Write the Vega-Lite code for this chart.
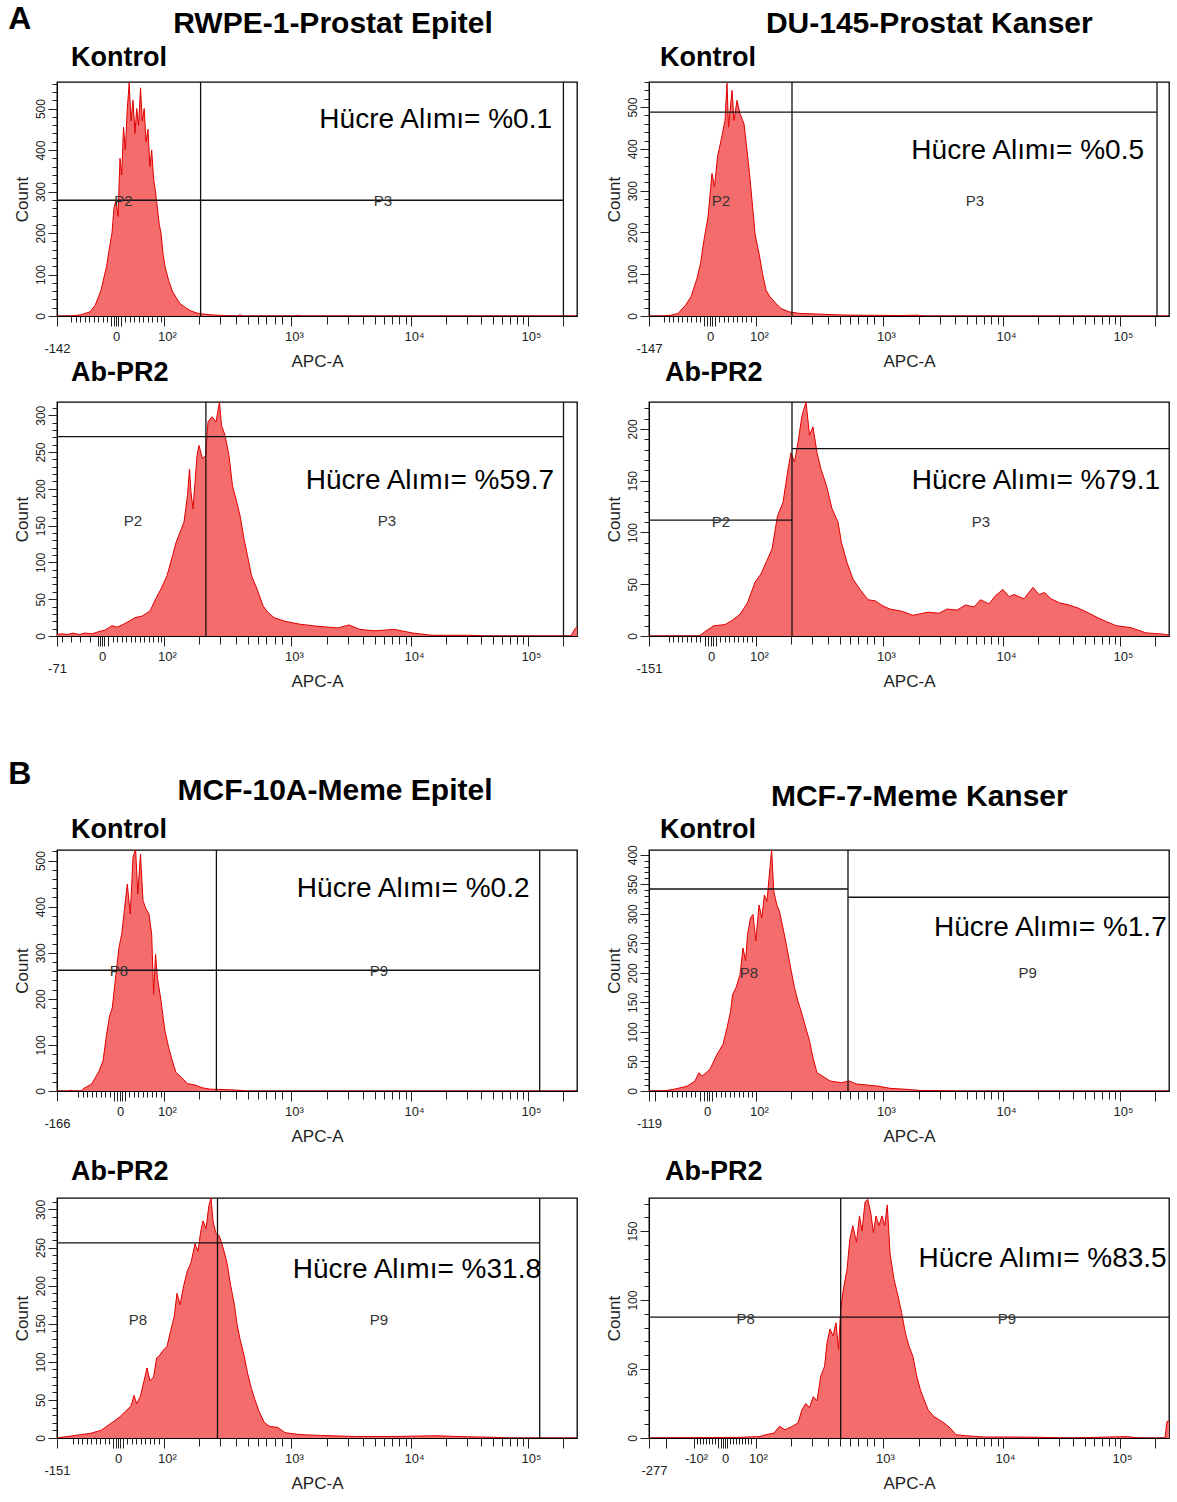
{
"$schema": "https://vega.github.io/schema/vega-lite/v6.json",
"background": "white",
"padding": {"left": 8, "top": 2, "right": 5, "bottom": 5},
"config": {
 "font": "Liberation Sans",
 "view": {"stroke": "black", "strokeWidth": 1.3},
 "title": {"font": "Liberation Sans", "fontWeight": "bold", "color": "black"},
 "axis": {"grid": false, "domainColor": "black", "tickColor": "#222", "labelColor": "#222", "titleColor": "#222", "titleFontWeight": "normal", "titleFont": "Liberation Sans", "labelFont": "Liberation Sans Narrow, Liberation Sans", "labelOverlap": false, "labelFlush": false, "zindex": 1, "tickCount": 200},
 "axisX": {"labelFontSize": 13, "titleFontSize": 17, "titleY": 37, "titleBaseline": "top", "labelOverlap": false, "labelFlush": false},
 "axisY": {"labelFontSize": 12, "titleFontSize": 17, "labelAngle": 270, "labelAlign": "center", "labelBaseline": "bottom", "labelPadding": 1, "titlePadding": 3, "labelOverlap": false, "labelFlush": false}
},
"datasets": {
 "h1": [{"x":0,"c":0},{"x":14,"c":0},{"x":24,"c":3},{"x":33,"c":10},{"x":38,"c":25},{"x":44,"c":62},{"x":49.6,"c":120},{"x":51.5,"c":150},{"x":55,"c":200},{"x":57,"c":260},{"x":59,"c":280},{"x":61,"c":240},{"x":63,"c":380},{"x":64.7,"c":340},{"x":66.5,"c":455},{"x":68.4,"c":400},{"x":70.3,"c":500},{"x":72.2,"c":562},{"x":74,"c":470},{"x":76,"c":520},{"x":78,"c":440},{"x":79.7,"c":500},{"x":81.6,"c":460},{"x":83.5,"c":550},{"x":85.3,"c":470},{"x":87.2,"c":500},{"x":89,"c":420},{"x":91,"c":450},{"x":92.9,"c":360},{"x":94.7,"c":400},{"x":96.6,"c":330},{"x":98.5,"c":300},{"x":100.4,"c":260},{"x":102.3,"c":220},{"x":104,"c":200},{"x":106,"c":150},{"x":108,"c":120},{"x":111.7,"c":85},{"x":115.4,"c":60},{"x":119,"c":45},{"x":123,"c":30},{"x":128.6,"c":20},{"x":134,"c":12},{"x":141.7,"c":6},{"x":153,"c":3},{"x":168,"c":1},{"x":180,"c":0},{"x":183,"c":3},{"x":186,"c":0},{"x":238,"c":0},{"x":241,"c":2},{"x":244,"c":0},{"x":520,"c":0}],
 "h2": [{"x":0,"c":2},{"x":5,"c":3},{"x":10,"c":2},{"x":16,"c":4},{"x":22,"c":2},{"x":28,"c":4},{"x":35,"c":3},{"x":42,"c":6},{"x":48,"c":8},{"x":55,"c":14},{"x":60,"c":12},{"x":66.5,"c":16},{"x":72,"c":20},{"x":78,"c":25},{"x":85,"c":27},{"x":93,"c":34},{"x":98.5,"c":50},{"x":104,"c":64},{"x":110,"c":82},{"x":115.5,"c":109},{"x":119,"c":127},{"x":123,"c":141},{"x":127,"c":155},{"x":130.5,"c":191},{"x":132.5,"c":227},{"x":134,"c":195},{"x":136,"c":173},{"x":138,"c":209},{"x":140,"c":245},{"x":142,"c":259},{"x":145.5,"c":241},{"x":148.5,"c":245},{"x":151,"c":291},{"x":155,"c":298},{"x":159,"c":291},{"x":162.5,"c":318},{"x":164.5,"c":286},{"x":168,"c":273},{"x":172,"c":245},{"x":175.5,"c":204},{"x":179,"c":186},{"x":183,"c":164},{"x":187,"c":132},{"x":190.5,"c":109},{"x":194.5,"c":82},{"x":200,"c":64},{"x":206,"c":41},{"x":211,"c":32},{"x":217,"c":25},{"x":228,"c":20},{"x":243,"c":16},{"x":262,"c":13},{"x":281,"c":11},{"x":292,"c":15},{"x":303,"c":9},{"x":318,"c":7},{"x":337,"c":9},{"x":356,"c":4},{"x":375,"c":1},{"x":412,"c":1},{"x":430,"c":0},{"x":514,"c":0},{"x":518,"c":10},{"x":520,"c":12}],
 "h3": [{"x":0,"c":0},{"x":14,"c":0},{"x":22,"c":2},{"x":29,"c":6},{"x":36.5,"c":26},{"x":42,"c":46},{"x":48,"c":90},{"x":51.5,"c":126},{"x":55,"c":182},{"x":59,"c":237},{"x":63,"c":341},{"x":65.5,"c":309},{"x":68.5,"c":381},{"x":72,"c":420},{"x":76,"c":468},{"x":78,"c":557},{"x":79.5,"c":452},{"x":83,"c":540},{"x":85,"c":468},{"x":88,"c":516},{"x":91,"c":484},{"x":95,"c":460},{"x":98,"c":396},{"x":100.5,"c":341},{"x":103,"c":277},{"x":106,"c":197},{"x":110,"c":150},{"x":113.5,"c":102},{"x":117,"c":62},{"x":121,"c":46},{"x":127,"c":30},{"x":132,"c":18},{"x":140,"c":10},{"x":151,"c":6},{"x":166,"c":5},{"x":185,"c":3},{"x":204,"c":2},{"x":234,"c":1.5},{"x":250,"c":1},{"x":268,"c":2},{"x":275,"c":0},{"x":520,"c":0}],
 "h4": [{"x":0,"c":0},{"x":50,"c":0},{"x":53,"c":2},{"x":57,"c":5},{"x":65,"c":10},{"x":76,"c":11},{"x":83,"c":15},{"x":91,"c":21},{"x":98.5,"c":32},{"x":106,"c":52},{"x":112,"c":60},{"x":117,"c":71},{"x":123,"c":84},{"x":128.5,"c":116},{"x":134,"c":129},{"x":139,"c":161},{"x":142,"c":177},{"x":145.5,"c":168},{"x":149,"c":187},{"x":153,"c":213},{"x":157,"c":226},{"x":160.5,"c":194},{"x":164,"c":202},{"x":168,"c":177},{"x":172,"c":161},{"x":177.5,"c":145},{"x":183,"c":123},{"x":189,"c":110},{"x":192.5,"c":90},{"x":198,"c":71},{"x":204,"c":55},{"x":211,"c":45},{"x":219,"c":35},{"x":226,"c":34},{"x":234,"c":29},{"x":241,"c":26},{"x":252.5,"c":24},{"x":264,"c":20},{"x":279,"c":23},{"x":290,"c":22},{"x":298,"c":26},{"x":308,"c":25},{"x":316.5,"c":30},{"x":325,"c":28},{"x":331.5,"c":35},{"x":340,"c":31},{"x":346.5,"c":39},{"x":354,"c":45},{"x":360,"c":38},{"x":365,"c":40},{"x":375,"c":36},{"x":384,"c":47},{"x":390,"c":40},{"x":395.5,"c":42},{"x":402,"c":36},{"x":410.5,"c":32},{"x":420,"c":30},{"x":429,"c":27},{"x":438,"c":23},{"x":448,"c":18},{"x":457,"c":14},{"x":467,"c":10},{"x":482,"c":8},{"x":497,"c":3},{"x":512,"c":2},{"x":520,"c":1}],
 "h5": [{"x":0,"c":0},{"x":12,"c":0},{"x":14,"c":2},{"x":16,"c":0},{"x":24,"c":0},{"x":27,"c":6},{"x":34.6,"c":15},{"x":42,"c":43},{"x":46,"c":65},{"x":49.6,"c":123},{"x":52.3,"c":160},{"x":55.3,"c":181},{"x":59,"c":254},{"x":62,"c":312},{"x":64.7,"c":340},{"x":67.3,"c":391},{"x":70.3,"c":449},{"x":73.3,"c":384},{"x":76,"c":507},{"x":78.6,"c":525},{"x":80.8,"c":428},{"x":83.5,"c":514},{"x":86,"c":413},{"x":89,"c":395},{"x":92,"c":384},{"x":94.7,"c":340},{"x":96.6,"c":210},{"x":98.5,"c":297},{"x":100.4,"c":246},{"x":104,"c":196},{"x":108,"c":130},{"x":111.7,"c":94},{"x":115.4,"c":65},{"x":119,"c":40},{"x":124.8,"c":29},{"x":130.5,"c":16},{"x":138,"c":13},{"x":145.5,"c":7},{"x":153,"c":4},{"x":168,"c":3},{"x":183,"c":1.5},{"x":191,"c":0},{"x":520,"c":0}],
 "h6": [{"x":0,"c":0},{"x":15.8,"c":0.5},{"x":25,"c":3},{"x":38,"c":8},{"x":46,"c":17},{"x":50,"c":31},{"x":53,"c":25},{"x":61,"c":37},{"x":68,"c":62},{"x":74,"c":79},{"x":78,"c":107},{"x":81.6,"c":135},{"x":83.5,"c":163},{"x":87,"c":175},{"x":91,"c":197},{"x":94,"c":242},{"x":96.6,"c":220},{"x":98.5,"c":265},{"x":101.5,"c":293},{"x":104,"c":299},{"x":106.8,"c":254},{"x":110,"c":315},{"x":112.8,"c":293},{"x":115.4,"c":332},{"x":118,"c":321},{"x":120.3,"c":366},{"x":122.6,"c":408},{"x":124.8,"c":338},{"x":127.8,"c":315},{"x":130.5,"c":304},{"x":134,"c":276},{"x":138,"c":242},{"x":141.7,"c":208},{"x":145.5,"c":175},{"x":149,"c":152},{"x":153,"c":130},{"x":156.8,"c":107},{"x":160.5,"c":85},{"x":164,"c":56},{"x":168,"c":31},{"x":173.7,"c":25},{"x":181,"c":17},{"x":192.5,"c":14},{"x":200,"c":17},{"x":207.5,"c":12},{"x":218.8,"c":10},{"x":230,"c":8},{"x":241,"c":4.5},{"x":256,"c":3},{"x":271,"c":1},{"x":297.7,"c":0.5},{"x":310,"c":0},{"x":520,"c":0}],
 "h7": [{"x":0,"c":0},{"x":4.5,"c":1},{"x":16,"c":3},{"x":33,"c":6},{"x":44,"c":10},{"x":51.5,"c":17},{"x":57,"c":22},{"x":63,"c":28},{"x":68.4,"c":35},{"x":74,"c":42},{"x":77,"c":56},{"x":79.7,"c":45},{"x":83.5,"c":55},{"x":87,"c":75},{"x":90,"c":92},{"x":93,"c":75},{"x":96.6,"c":80},{"x":99.6,"c":105},{"x":102.3,"c":108},{"x":106,"c":115},{"x":110,"c":120},{"x":113.5,"c":140},{"x":117.3,"c":160},{"x":120,"c":190},{"x":123,"c":175},{"x":126.7,"c":200},{"x":130.5,"c":220},{"x":134,"c":230},{"x":138,"c":255},{"x":141,"c":245},{"x":143.6,"c":270},{"x":146,"c":285},{"x":149,"c":275},{"x":151.9,"c":305},{"x":154,"c":315},{"x":156,"c":285},{"x":158.6,"c":270},{"x":162.4,"c":265},{"x":166,"c":250},{"x":170,"c":230},{"x":173.7,"c":200},{"x":177.4,"c":175},{"x":180,"c":150},{"x":183,"c":130},{"x":186.8,"c":110},{"x":190.6,"c":85},{"x":194.4,"c":65},{"x":198,"c":50},{"x":202,"c":35},{"x":207.5,"c":20},{"x":213,"c":15},{"x":220.7,"c":14},{"x":228,"c":7},{"x":239.5,"c":5},{"x":250.7,"c":4},{"x":273,"c":3},{"x":299.6,"c":2},{"x":337,"c":2},{"x":378.6,"c":3},{"x":412,"c":1.5},{"x":435,"c":1},{"x":450,"c":0},{"x":520,"c":0}],
 "h8": [{"x":0,"c":0},{"x":91,"c":0.5},{"x":110,"c":1},{"x":117,"c":2.4},{"x":125,"c":3.6},{"x":130.5,"c":8.5},{"x":136,"c":6},{"x":143.6,"c":8.5},{"x":149,"c":11},{"x":153,"c":20.6},{"x":156.8,"c":25},{"x":160.5,"c":22},{"x":164.3,"c":30},{"x":168,"c":27},{"x":171.8,"c":45},{"x":175.6,"c":52},{"x":178,"c":69},{"x":181,"c":79},{"x":184,"c":74},{"x":187,"c":83.5},{"x":189.5,"c":64},{"x":191.7,"c":93},{"x":194.4,"c":108},{"x":198,"c":122},{"x":200.8,"c":144},{"x":203.8,"c":154},{"x":207.5,"c":142},{"x":210.5,"c":161},{"x":213,"c":150},{"x":216,"c":171},{"x":218.8,"c":173},{"x":221.8,"c":163},{"x":224.4,"c":149},{"x":227,"c":161},{"x":230,"c":154},{"x":233,"c":161},{"x":235.7,"c":154},{"x":238.3,"c":169},{"x":241,"c":134},{"x":245,"c":115},{"x":249,"c":103},{"x":252.6,"c":91},{"x":256.4,"c":76},{"x":260,"c":66.6},{"x":264,"c":59},{"x":267.7,"c":45},{"x":271.4,"c":35},{"x":275,"c":28},{"x":279,"c":20.6},{"x":284.6,"c":15.7},{"x":290,"c":13.3},{"x":296,"c":10.4},{"x":301.5,"c":7},{"x":307,"c":2.4},{"x":316.5,"c":1.7},{"x":335,"c":0.7},{"x":365,"c":0.7},{"x":391.7,"c":0.5},{"x":420,"c":0},{"x":478,"c":1},{"x":490,"c":0},{"x":516,"c":0},{"x":518,"c":12},{"x":520,"c":12}],
 "gates": [
  {"p":1,"k":"v","x":143.6},{"p":1,"k":"v","x":506.4},{"p":1,"k":"h","y":279,"x0":0,"x1":506.4},
  {"p":2,"k":"v","x":148.9},{"p":2,"k":"v","x":506.5},{"p":2,"k":"h","y":271,"x0":0,"x1":506.5},
  {"p":3,"k":"v","x":143},{"p":3,"k":"v","x":508},{"p":3,"k":"h","y":488,"x0":0,"x1":508},
  {"p":4,"k":"v","x":143},{"p":4,"k":"h","y":112,"x0":0,"x1":143},{"p":4,"k":"h","y":181,"x0":143,"x1":520},
  {"p":5,"k":"v","x":159.4},{"p":5,"k":"v","x":482.7},{"p":5,"k":"h","y":262,"x0":0,"x1":482.7},
  {"p":6,"k":"v","x":199},{"p":6,"k":"h","y":342,"x0":0,"x1":199},{"p":6,"k":"h","y":328,"x0":199,"x1":520},
  {"p":7,"k":"v","x":160.5},{"p":7,"k":"v","x":482.7},{"p":7,"k":"h","y":256,"x0":0,"x1":482.7},
  {"p":8,"k":"v","x":191.7},{"p":8,"k":"h","y":87.6,"x0":0,"x1":520}
 ],
 "labels": [
  {"p":1,"k":"g","x":66.5,"y":277,"t":"P2"},{"p":1,"k":"g","x":326,"y":277,"t":"P3"},{"p":1,"k":"pct","x":495,"y":472,"t":"Hücre Alımı= %0.1"},
  {"p":2,"k":"g","x":76,"y":156,"t":"P2"},{"p":2,"k":"g","x":330,"y":156,"t":"P3"},{"p":2,"k":"pct","x":497,"y":211,"t":"Hücre Alımı= %59.7"},
  {"p":3,"k":"g","x":72,"y":275,"t":"P2"},{"p":3,"k":"g","x":326,"y":275,"t":"P3"},{"p":3,"k":"pct","x":495,"y":396,"t":"Hücre Alımı= %0.5"},
  {"p":4,"k":"g","x":72,"y":110,"t":"P2"},{"p":4,"k":"g","x":332,"y":110,"t":"P3"},{"p":4,"k":"pct","x":511,"y":150,"t":"Hücre Alımı= %79.1"},
  {"p":5,"k":"g","x":62,"y":260,"t":"P8"},{"p":5,"k":"g","x":322,"y":260,"t":"P9"},{"p":5,"k":"pct","x":472.5,"y":438,"t":"Hücre Alımı= %0.2"},
  {"p":6,"k":"g","x":100,"y":200,"t":"P8"},{"p":6,"k":"g","x":378.6,"y":200,"t":"P9"},{"p":6,"k":"pct","x":517.7,"y":276,"t":"Hücre Alımı= %1.7"},
  {"p":7,"k":"g","x":81,"y":155,"t":"P8"},{"p":7,"k":"g","x":322,"y":155,"t":"P9"},{"p":7,"k":"pct","x":484,"y":221,"t":"Hücre Alımı= %31.8"},
  {"p":8,"k":"g","x":96.6,"y":86,"t":"P8"},{"p":8,"k":"g","x":358,"y":86,"t":"P9"},{"p":8,"k":"pct","x":517.7,"y":129.5,"t":"Hücre Alımı= %83.5"}
 ]
},
"spacing": 67,
"vconcat": [
{
 "title": {"text": "A", "anchor": "start", "fontSize": 32, "offset": -27, "dx": -4},
 "spacing": 26,
 "hconcat": [
 {
  "title": {"text": "RWPE-1-Prostat Epitel", "anchor": "middle", "fontSize": 30, "dx": 38, "offset": 5},
  "spacing": -12,
  "vconcat": [
  {
   "width": 520, "height": 234,
   "title": {"text": "Kontrol", "anchor": "start", "frame": "group", "dx": 14, "fontSize": 27, "offset": 9},
   "layer": [
    {"data": {"name": "h1"}, "mark": {"type": "area", "color": "#f46c6c", "opacity": 1, "clip": true, "line": {"color": "#e00000", "strokeWidth": 1}},
     "encoding": {
      "x": {"field": "x", "type": "quantitative", "scale": {"domain": [0, 520], "nice": false, "zero": false},
       "axis": {"title": "APC-A", "tickCount": 200, "labelOverlap": false, "labelFlush": false, "values": [0,14,18.5,23,27.5,32,36.5,41,45.5,50,54,57,59,61,64,68,72.5,77,81.5,86,90.5,95,99.5,104,107,142,163.4,179,190.7,200.9,209.2,218,224.7,234,270.1,291.2,306.2,317.9,327.4,335.4,342.4,348.5,354,389.2,409.8,424.4,435.8,445,452.9,459.7,465.6,471,506],
        "labelExpr": "datum.value==0?'-142':datum.value==59?'0':datum.value==107?'10²':datum.value==234?'10³':datum.value==354?'10⁴':datum.value==471?'10⁵':''",
        "tickSize": {"condition": [{"test": "indexof([0,54,57,59,61,64,107,234,354,471,506],datum.value)>=0", "value": 10}, {"test": "datum.value>106", "value": 8}], "value": 6},
        "labelOffset": {"condition": [{"test": "datum.value==0", "value": 0}, {"test": "datum.value>100", "value": 3}], "value": 0},
        "labelPadding": {"condition": {"test": "datum.value==0", "value": 16}, "value": 4}}},
      "y": {"field": "c", "type": "quantitative", "scale": {"domain": [0, 564], "nice": false},
       "axis": {"title": "Count", "tickCount": 200, "labelOverlap": false, "labelFlush": false, "values": [0,20,40,60,80,100,120,140,160,180,200,220,240,260,280,300,320,340,360,380,400,420,440,460,480,500,520,540,560],
        "labelExpr": "datum.value % 100 == 0 ? datum.label : ''",
        "tickSize": {"condition": {"test": "datum.value % 100 == 0", "value": 9}, "value": 5}}}
     }},
    {"data": {"name": "gates"}, "transform": [{"filter": "datum.p == 1 && datum.k == 'v'"}], "mark": {"type": "rule", "color": "#111", "strokeWidth": 1.3}, "encoding": {"x": {"field": "x", "type": "quantitative"}}},
    {"data": {"name": "gates"}, "transform": [{"filter": "datum.p == 1 && datum.k == 'h'"}], "mark": {"type": "rule", "color": "#111", "strokeWidth": 1.3}, "encoding": {"y": {"field": "y", "type": "quantitative"}, "x": {"field": "x0", "type": "quantitative"}, "x2": {"field": "x1"}}},
    {"data": {"name": "labels"}, "transform": [{"filter": "datum.p == 1 && datum.k == 'g'"}], "mark": {"type": "text", "fontSize": 15, "color": "#333"}, "encoding": {"x": {"field": "x", "type": "quantitative"}, "y": {"field": "y", "type": "quantitative"}, "text": {"field": "t"}}},
    {"data": {"name": "labels"}, "transform": [{"filter": "datum.p == 1 && datum.k == 'pct'"}], "mark": {"type": "text", "fontSize": 28, "align": "right", "color": "black"}, "encoding": {"x": {"field": "x", "type": "quantitative"}, "y": {"field": "y", "type": "quantitative"}, "text": {"field": "t"}}}
   ]
  },
  {
   "width": 520, "height": 234,
   "title": {"text": "Ab-PR2", "anchor": "start", "frame": "group", "dx": 14, "fontSize": 27, "offset": 14},
   "layer": [
    {"data": {"name": "h2"}, "mark": {"type": "area", "color": "#f46c6c", "opacity": 1, "clip": true, "line": {"color": "#e00000", "strokeWidth": 1}},
     "encoding": {
      "x": {"field": "x", "type": "quantitative", "scale": {"domain": [0, 520], "nice": false, "zero": false},
       "axis": {"title": "APC-A", "tickCount": 200, "labelOverlap": false, "labelFlush": false, "values": [0,4.5,14,23,32.5,41,43,45,47,51,55.5,60,64.5,69,73.5,78,82.5,87,91.5,96,100.5,104,107,142,163.4,179,190.7,200.9,209.2,218,224.7,234,270.1,291.2,306.2,317.9,327.4,335.4,342.4,348.5,354,389.2,409.8,424.4,435.8,445,452.9,459.7,465.6,471,506],
        "labelExpr": "datum.value==0?'-71':datum.value==45?'0':datum.value==107?'10²':datum.value==234?'10³':datum.value==354?'10⁴':datum.value==471?'10⁵':''",
        "tickSize": {"condition": [{"test": "indexof([0,41,43,45,47,51,107,234,354,471,506],datum.value)>=0", "value": 10}, {"test": "datum.value>106", "value": 8}], "value": 6},
        "labelOffset": {"condition": [{"test": "datum.value==0", "value": 0}, {"test": "datum.value>100", "value": 3}], "value": 0},
        "labelPadding": {"condition": {"test": "datum.value==0", "value": 16}, "value": 4}}},
      "y": {"field": "c", "type": "quantitative", "scale": {"domain": [0, 318], "nice": false},
       "axis": {"title": "Count", "tickCount": 200, "labelOverlap": false, "labelFlush": false, "values": [0,10,20,30,40,50,60,70,80,90,100,110,120,130,140,150,160,170,180,190,200,210,220,230,240,250,260,270,280,290,300,310],
        "labelExpr": "datum.value % 50 == 0 ? datum.label : ''",
        "tickSize": {"condition": {"test": "datum.value % 50 == 0", "value": 9}, "value": 5}}}
     }},
    {"data": {"name": "gates"}, "transform": [{"filter": "datum.p == 2 && datum.k == 'v'"}], "mark": {"type": "rule", "color": "#111", "strokeWidth": 1.3}, "encoding": {"x": {"field": "x", "type": "quantitative"}}},
    {"data": {"name": "gates"}, "transform": [{"filter": "datum.p == 2 && datum.k == 'h'"}], "mark": {"type": "rule", "color": "#111", "strokeWidth": 1.3}, "encoding": {"y": {"field": "y", "type": "quantitative"}, "x": {"field": "x0", "type": "quantitative"}, "x2": {"field": "x1"}}},
    {"data": {"name": "labels"}, "transform": [{"filter": "datum.p == 2 && datum.k == 'g'"}], "mark": {"type": "text", "fontSize": 15, "color": "#333"}, "encoding": {"x": {"field": "x", "type": "quantitative"}, "y": {"field": "y", "type": "quantitative"}, "text": {"field": "t"}}},
    {"data": {"name": "labels"}, "transform": [{"filter": "datum.p == 2 && datum.k == 'pct'"}], "mark": {"type": "text", "fontSize": 28, "align": "right", "color": "black"}, "encoding": {"x": {"field": "x", "type": "quantitative"}, "y": {"field": "y", "type": "quantitative"}, "text": {"field": "t"}}}
   ]
  }
  ]
 },
 {
  "title": {"text": "DU-145-Prostat Kanser", "anchor": "middle", "fontSize": 30, "dx": 42, "offset": 5},
  "spacing": -12,
  "vconcat": [
  {
   "width": 520, "height": 234,
   "title": {"text": "Kontrol", "anchor": "start", "frame": "group", "dx": 11, "fontSize": 27, "offset": 9},
   "layer": [
    {"data": {"name": "h3"}, "mark": {"type": "area", "color": "#f46c6c", "opacity": 1, "clip": true, "line": {"color": "#e00000", "strokeWidth": 1}},
     "encoding": {
      "x": {"field": "x", "type": "quantitative", "scale": {"domain": [0, 520], "nice": false, "zero": false},
       "axis": {"title": "APC-A", "tickCount": 200, "labelOverlap": false, "labelFlush": false, "values": [0,15,19.5,24,28.5,33,37.5,42,46.5,51,55,58,61,63,66,70,74.5,79,83.5,88,92.5,97,101.5,107,142,163.4,179,190.7,200.9,209.2,218,224.7,234,270.1,291.2,306.2,317.9,327.4,335.4,342.4,348.5,354,389.2,409.8,424.4,435.8,445,452.9,459.7,465.6,471,506],
        "labelExpr": "datum.value==0?'-147':datum.value==61?'0':datum.value==107?'10²':datum.value==234?'10³':datum.value==354?'10⁴':datum.value==471?'10⁵':''",
        "tickSize": {"condition": [{"test": "indexof([0,55,58,61,63,66,107,234,354,471,506],datum.value)>=0", "value": 10}, {"test": "datum.value>106", "value": 8}], "value": 6},
        "labelOffset": {"condition": [{"test": "datum.value==0", "value": 0}, {"test": "datum.value>100", "value": 3}], "value": 0},
        "labelPadding": {"condition": {"test": "datum.value==0", "value": 16}, "value": 4}}},
      "y": {"field": "c", "type": "quantitative", "scale": {"domain": [0, 560], "nice": false},
       "axis": {"title": "Count", "tickCount": 200, "labelOverlap": false, "labelFlush": false, "values": [0,20,40,60,80,100,120,140,160,180,200,220,240,260,280,300,320,340,360,380,400,420,440,460,480,500,520,540,560],
        "labelExpr": "datum.value % 100 == 0 ? datum.label : ''",
        "tickSize": {"condition": {"test": "datum.value % 100 == 0", "value": 9}, "value": 5}}}
     }},
    {"data": {"name": "gates"}, "transform": [{"filter": "datum.p == 3 && datum.k == 'v'"}], "mark": {"type": "rule", "color": "#111", "strokeWidth": 1.3}, "encoding": {"x": {"field": "x", "type": "quantitative"}}},
    {"data": {"name": "gates"}, "transform": [{"filter": "datum.p == 3 && datum.k == 'h'"}], "mark": {"type": "rule", "color": "#111", "strokeWidth": 1.3}, "encoding": {"y": {"field": "y", "type": "quantitative"}, "x": {"field": "x0", "type": "quantitative"}, "x2": {"field": "x1"}}},
    {"data": {"name": "labels"}, "transform": [{"filter": "datum.p == 3 && datum.k == 'g'"}], "mark": {"type": "text", "fontSize": 15, "color": "#333"}, "encoding": {"x": {"field": "x", "type": "quantitative"}, "y": {"field": "y", "type": "quantitative"}, "text": {"field": "t"}}},
    {"data": {"name": "labels"}, "transform": [{"filter": "datum.p == 3 && datum.k == 'pct'"}], "mark": {"type": "text", "fontSize": 28, "align": "right", "color": "black"}, "encoding": {"x": {"field": "x", "type": "quantitative"}, "y": {"field": "y", "type": "quantitative"}, "text": {"field": "t"}}}
   ]
  },
  {
   "width": 520, "height": 234,
   "title": {"text": "Ab-PR2", "anchor": "start", "frame": "group", "dx": 16, "fontSize": 27, "offset": 14},
   "layer": [
    {"data": {"name": "h4"}, "mark": {"type": "area", "color": "#f46c6c", "opacity": 1, "clip": true, "line": {"color": "#e00000", "strokeWidth": 1}},
     "encoding": {
      "x": {"field": "x", "type": "quantitative", "scale": {"domain": [0, 520], "nice": false, "zero": false},
       "axis": {"title": "APC-A", "tickCount": 200, "labelOverlap": false, "labelFlush": false, "values": [0,19.5,24,28.5,33,37.5,42,46.5,51,55.5,59,62,64,67,71,75.5,80,84.5,89,93.5,98,102.5,107,142,163.4,179,190.7,200.9,209.2,218,224.7,234,270.1,291.2,306.2,317.9,327.4,335.4,342.4,348.5,354,389.2,409.8,424.4,435.8,445,452.9,459.7,465.6,471,506],
        "labelExpr": "datum.value==0?'-151':datum.value==62?'0':datum.value==107?'10²':datum.value==234?'10³':datum.value==354?'10⁴':datum.value==471?'10⁵':''",
        "tickSize": {"condition": [{"test": "indexof([0,55.5,59,62,64,67,107,234,354,471,506],datum.value)>=0", "value": 10}, {"test": "datum.value>106", "value": 8}], "value": 6},
        "labelOffset": {"condition": [{"test": "datum.value==0", "value": 0}, {"test": "datum.value>100", "value": 3}], "value": 0},
        "labelPadding": {"condition": {"test": "datum.value==0", "value": 16}, "value": 4}}},
      "y": {"field": "c", "type": "quantitative", "scale": {"domain": [0, 226], "nice": false},
       "axis": {"title": "Count", "tickCount": 200, "labelOverlap": false, "labelFlush": false, "values": [0,10,20,30,40,50,60,70,80,90,100,110,120,130,140,150,160,170,180,190,200,210,220],
        "labelExpr": "datum.value % 50 == 0 ? datum.label : ''",
        "tickSize": {"condition": {"test": "datum.value % 50 == 0", "value": 9}, "value": 5}}}
     }},
    {"data": {"name": "gates"}, "transform": [{"filter": "datum.p == 4 && datum.k == 'v'"}], "mark": {"type": "rule", "color": "#111", "strokeWidth": 1.3}, "encoding": {"x": {"field": "x", "type": "quantitative"}}},
    {"data": {"name": "gates"}, "transform": [{"filter": "datum.p == 4 && datum.k == 'h'"}], "mark": {"type": "rule", "color": "#111", "strokeWidth": 1.3}, "encoding": {"y": {"field": "y", "type": "quantitative"}, "x": {"field": "x0", "type": "quantitative"}, "x2": {"field": "x1"}}},
    {"data": {"name": "labels"}, "transform": [{"filter": "datum.p == 4 && datum.k == 'g'"}], "mark": {"type": "text", "fontSize": 15, "color": "#333"}, "encoding": {"x": {"field": "x", "type": "quantitative"}, "y": {"field": "y", "type": "quantitative"}, "text": {"field": "t"}}},
    {"data": {"name": "labels"}, "transform": [{"filter": "datum.p == 4 && datum.k == 'pct'"}], "mark": {"type": "text", "fontSize": 28, "align": "right", "color": "black"}, "encoding": {"x": {"field": "x", "type": "quantitative"}, "y": {"field": "y", "type": "quantitative"}, "text": {"field": "t"}}}
   ]
  }
  ]
 }
 ]
},
{
 "title": {"text": "B", "anchor": "start", "fontSize": 32, "offset": -15, "dx": -4},
 "spacing": 26,
 "hconcat": [
 {
  "title": {"text": "MCF-10A-Meme Epitel", "anchor": "middle", "fontSize": 30, "dx": 40, "offset": 10},
  "spacing": 12,
  "vconcat": [
  {
   "width": 520, "height": 241,
   "title": {"text": "Kontrol", "anchor": "start", "frame": "group", "dx": 14, "fontSize": 27, "offset": 5},
   "layer": [
    {"data": {"name": "h5"}, "mark": {"type": "area", "color": "#f46c6c", "opacity": 1, "clip": true, "line": {"color": "#e00000", "strokeWidth": 1}},
     "encoding": {
      "x": {"field": "x", "type": "quantitative", "scale": {"domain": [0, 520], "nice": false, "zero": false},
       "axis": {"title": "APC-A", "tickCount": 200, "labelOverlap": false, "labelFlush": false, "values": [0,21,25.5,30,34.5,39,43.5,48,52.5,57,60,63,65,68,72,76.5,81,85.5,90,94.5,99,103.5,107,142,163.4,179,190.7,200.9,209.2,218,224.7,234,270.1,291.2,306.2,317.9,327.4,335.4,342.4,348.5,354,389.2,409.8,424.4,435.8,445,452.9,459.7,465.6,471,506],
        "labelExpr": "datum.value==0?'-166':datum.value==63?'0':datum.value==107?'10²':datum.value==234?'10³':datum.value==354?'10⁴':datum.value==471?'10⁵':''",
        "tickSize": {"condition": [{"test": "indexof([0,57,60,63,65,68,107,234,354,471,506],datum.value)>=0", "value": 10}, {"test": "datum.value>106", "value": 8}], "value": 6},
        "labelOffset": {"condition": [{"test": "datum.value==0", "value": 0}, {"test": "datum.value>100", "value": 3}], "value": 0},
        "labelPadding": {"condition": {"test": "datum.value==0", "value": 16}, "value": 4}}},
      "y": {"field": "c", "type": "quantitative", "scale": {"domain": [0, 523], "nice": false},
       "axis": {"title": "Count", "tickCount": 200, "labelOverlap": false, "labelFlush": false, "values": [0,20,40,60,80,100,120,140,160,180,200,220,240,260,280,300,320,340,360,380,400,420,440,460,480,500,520],
        "labelExpr": "datum.value % 100 == 0 ? datum.label : ''",
        "tickSize": {"condition": {"test": "datum.value % 100 == 0", "value": 9}, "value": 5}}}
     }},
    {"data": {"name": "gates"}, "transform": [{"filter": "datum.p == 5 && datum.k == 'v'"}], "mark": {"type": "rule", "color": "#111", "strokeWidth": 1.3}, "encoding": {"x": {"field": "x", "type": "quantitative"}}},
    {"data": {"name": "gates"}, "transform": [{"filter": "datum.p == 5 && datum.k == 'h'"}], "mark": {"type": "rule", "color": "#111", "strokeWidth": 1.3}, "encoding": {"y": {"field": "y", "type": "quantitative"}, "x": {"field": "x0", "type": "quantitative"}, "x2": {"field": "x1"}}},
    {"data": {"name": "labels"}, "transform": [{"filter": "datum.p == 5 && datum.k == 'g'"}], "mark": {"type": "text", "fontSize": 15, "color": "#333"}, "encoding": {"x": {"field": "x", "type": "quantitative"}, "y": {"field": "y", "type": "quantitative"}, "text": {"field": "t"}}},
    {"data": {"name": "labels"}, "transform": [{"filter": "datum.p == 5 && datum.k == 'pct'"}], "mark": {"type": "text", "fontSize": 28, "align": "right", "color": "black"}, "encoding": {"x": {"field": "x", "type": "quantitative"}, "y": {"field": "y", "type": "quantitative"}, "text": {"field": "t"}}}
   ]
  },
  {
   "width": 520, "height": 240,
   "title": {"text": "Ab-PR2", "anchor": "start", "frame": "group", "dx": 14, "fontSize": 27, "offset": 11},
   "layer": [
    {"data": {"name": "h7"}, "mark": {"type": "area", "color": "#f46c6c", "opacity": 1, "clip": true, "line": {"color": "#e00000", "strokeWidth": 1}},
     "encoding": {
      "x": {"field": "x", "type": "quantitative", "scale": {"domain": [0, 520], "nice": false, "zero": false},
       "axis": {"title": "APC-A", "tickCount": 200, "labelOverlap": false, "labelFlush": false, "values": [0,16,20.5,25,29.5,34,38.5,43,47.5,52,56,59,61,63,66,70,74.5,79,83.5,88,92.5,97,101.5,107,142,163.4,179,190.7,200.9,209.2,218,224.7,234,270.1,291.2,306.2,317.9,327.4,335.4,342.4,348.5,354,389.2,409.8,424.4,435.8,445,452.9,459.7,465.6,471,506],
        "labelExpr": "datum.value==0?'-151':datum.value==61?'0':datum.value==107?'10²':datum.value==234?'10³':datum.value==354?'10⁴':datum.value==471?'10⁵':''",
        "tickSize": {"condition": [{"test": "indexof([0,56,59,61,63,66,107,234,354,471,506],datum.value)>=0", "value": 10}, {"test": "datum.value>106", "value": 8}], "value": 6},
        "labelOffset": {"condition": [{"test": "datum.value==0", "value": 0}, {"test": "datum.value>100", "value": 3}], "value": 0},
        "labelPadding": {"condition": {"test": "datum.value==0", "value": 16}, "value": 4}}},
      "y": {"field": "c", "type": "quantitative", "scale": {"domain": [0, 315], "nice": false},
       "axis": {"title": "Count", "tickCount": 200, "labelOverlap": false, "labelFlush": false, "values": [0,10,20,30,40,50,60,70,80,90,100,110,120,130,140,150,160,170,180,190,200,210,220,230,240,250,260,270,280,290,300,310],
        "labelExpr": "datum.value % 50 == 0 ? datum.label : ''",
        "tickSize": {"condition": {"test": "datum.value % 50 == 0", "value": 9}, "value": 5}}}
     }},
    {"data": {"name": "gates"}, "transform": [{"filter": "datum.p == 7 && datum.k == 'v'"}], "mark": {"type": "rule", "color": "#111", "strokeWidth": 1.3}, "encoding": {"x": {"field": "x", "type": "quantitative"}}},
    {"data": {"name": "gates"}, "transform": [{"filter": "datum.p == 7 && datum.k == 'h'"}], "mark": {"type": "rule", "color": "#111", "strokeWidth": 1.3}, "encoding": {"y": {"field": "y", "type": "quantitative"}, "x": {"field": "x0", "type": "quantitative"}, "x2": {"field": "x1"}}},
    {"data": {"name": "labels"}, "transform": [{"filter": "datum.p == 7 && datum.k == 'g'"}], "mark": {"type": "text", "fontSize": 15, "color": "#333"}, "encoding": {"x": {"field": "x", "type": "quantitative"}, "y": {"field": "y", "type": "quantitative"}, "text": {"field": "t"}}},
    {"data": {"name": "labels"}, "transform": [{"filter": "datum.p == 7 && datum.k == 'pct'"}], "mark": {"type": "text", "fontSize": 28, "align": "right", "color": "black"}, "encoding": {"x": {"field": "x", "type": "quantitative"}, "y": {"field": "y", "type": "quantitative"}, "text": {"field": "t"}}}
   ]
  }
  ]
 },
 {
  "title": {"text": "MCF-7-Meme Kanser", "anchor": "middle", "fontSize": 30, "dx": 32, "offset": 3},
  "spacing": 12,
  "vconcat": [
  {
   "width": 520, "height": 241,
   "title": {"text": "Kontrol", "anchor": "start", "frame": "group", "dx": 11, "fontSize": 27, "offset": 1},
   "layer": [
    {"data": {"name": "h6"}, "mark": {"type": "area", "color": "#f46c6c", "opacity": 1, "clip": true, "line": {"color": "#e00000", "strokeWidth": 1}},
     "encoding": {
      "x": {"field": "x", "type": "quantitative", "scale": {"domain": [0, 520], "nice": false, "zero": false},
       "axis": {"title": "APC-A", "tickCount": 200, "labelOverlap": false, "labelFlush": false, "values": [0,6.4,17.7,23.3,28,32.5,37,41.5,46,50.5,55,58,60,63,67,71.5,76,80.5,85,89.5,94,98.5,103,107,142,163.4,179,190.7,200.9,209.2,218,224.7,234,270.1,291.2,306.2,317.9,327.4,335.4,342.4,348.5,354,389.2,409.8,424.4,435.8,445,452.9,459.7,465.6,471,506],
        "labelExpr": "datum.value==0?'-119':datum.value==58?'0':datum.value==107?'10²':datum.value==234?'10³':datum.value==354?'10⁴':datum.value==471?'10⁵':''",
        "tickSize": {"condition": [{"test": "indexof([0,6.4,50.5,55,58,60,63,107,234,354,471,506],datum.value)>=0", "value": 10}, {"test": "datum.value>106", "value": 8}], "value": 6},
        "labelOffset": {"condition": [{"test": "datum.value==0", "value": 0}, {"test": "datum.value>100", "value": 3}], "value": 0},
        "labelPadding": {"condition": {"test": "datum.value==0", "value": 16}, "value": 4}}},
      "y": {"field": "c", "type": "quantitative", "scale": {"domain": [0, 408], "nice": false},
       "axis": {"title": "Count", "tickCount": 200, "labelOverlap": false, "labelFlush": false, "values": [0,10,20,30,40,50,60,70,80,90,100,110,120,130,140,150,160,170,180,190,200,210,220,230,240,250,260,270,280,290,300,310,320,330,340,350,360,370,380,390,400],
        "labelExpr": "datum.value % 50 == 0 ? datum.label : ''",
        "tickSize": {"condition": {"test": "datum.value % 50 == 0", "value": 9}, "value": 5}}}
     }},
    {"data": {"name": "gates"}, "transform": [{"filter": "datum.p == 6 && datum.k == 'v'"}], "mark": {"type": "rule", "color": "#111", "strokeWidth": 1.3}, "encoding": {"x": {"field": "x", "type": "quantitative"}}},
    {"data": {"name": "gates"}, "transform": [{"filter": "datum.p == 6 && datum.k == 'h'"}], "mark": {"type": "rule", "color": "#111", "strokeWidth": 1.3}, "encoding": {"y": {"field": "y", "type": "quantitative"}, "x": {"field": "x0", "type": "quantitative"}, "x2": {"field": "x1"}}},
    {"data": {"name": "labels"}, "transform": [{"filter": "datum.p == 6 && datum.k == 'g'"}], "mark": {"type": "text", "fontSize": 15, "color": "#333"}, "encoding": {"x": {"field": "x", "type": "quantitative"}, "y": {"field": "y", "type": "quantitative"}, "text": {"field": "t"}}},
    {"data": {"name": "labels"}, "transform": [{"filter": "datum.p == 6 && datum.k == 'pct'"}], "mark": {"type": "text", "fontSize": 28, "align": "right", "color": "black"}, "encoding": {"x": {"field": "x", "type": "quantitative"}, "y": {"field": "y", "type": "quantitative"}, "text": {"field": "t"}}}
   ]
  },
  {
   "width": 520, "height": 240,
   "title": {"text": "Ab-PR2", "anchor": "start", "frame": "group", "dx": 16, "fontSize": 27, "offset": 11},
   "layer": [
    {"data": {"name": "h8"}, "mark": {"type": "area", "color": "#f46c6c", "opacity": 1, "clip": true, "line": {"color": "#e00000", "strokeWidth": 1}},
     "encoding": {
      "x": {"field": "x", "type": "quantitative", "scale": {"domain": [0, 520], "nice": false, "zero": false},
       "axis": {"title": "APC-A", "tickCount": 200, "labelOverlap": false, "labelFlush": false, "values": [0,16.7,45,48,51,54,57,60,63,66,69,72,74,76,78,81,84,87,90,93,96,99,102,107,142,163.4,179,190.7,200.9,209.2,218,224.7,234,270.1,291.2,306.2,317.9,327.4,335.4,342.4,348.5,354,389.2,409.8,424.4,435.8,445,452.9,459.7,465.6,471,506],
        "labelExpr": "datum.value==0?'-277':datum.value==45?'-10²':datum.value==76?'0':datum.value==107?'10²':datum.value==234?'10³':datum.value==354?'10⁴':datum.value==471?'10⁵':''",
        "tickSize": {"condition": [{"test": "indexof([0,16.7,45,69,72,74,76,78,107,234,354,471,506],datum.value)>=0", "value": 10}, {"test": "datum.value>106", "value": 8}], "value": 6},
        "labelOffset": {"condition": [{"test": "datum.value==0", "value": 5}, {"test": "datum.value==45 || datum.value>100", "value": 2}], "value": 0},
        "labelPadding": {"condition": {"test": "datum.value==0", "value": 16}, "value": 4}}},
      "y": {"field": "c", "type": "quantitative", "scale": {"domain": [0, 174], "nice": false},
       "axis": {"title": "Count", "tickCount": 200, "labelOverlap": false, "labelFlush": false, "values": [0,10,20,30,40,50,60,70,80,90,100,110,120,130,140,150,160,170],
        "labelExpr": "datum.value % 50 == 0 ? datum.label : ''",
        "tickSize": {"condition": {"test": "datum.value % 50 == 0", "value": 9}, "value": 5}}}
     }},
    {"data": {"name": "gates"}, "transform": [{"filter": "datum.p == 8 && datum.k == 'v'"}], "mark": {"type": "rule", "color": "#111", "strokeWidth": 1.3}, "encoding": {"x": {"field": "x", "type": "quantitative"}}},
    {"data": {"name": "gates"}, "transform": [{"filter": "datum.p == 8 && datum.k == 'h'"}], "mark": {"type": "rule", "color": "#111", "strokeWidth": 1.3}, "encoding": {"y": {"field": "y", "type": "quantitative"}, "x": {"field": "x0", "type": "quantitative"}, "x2": {"field": "x1"}}},
    {"data": {"name": "labels"}, "transform": [{"filter": "datum.p == 8 && datum.k == 'g'"}], "mark": {"type": "text", "fontSize": 15, "color": "#333"}, "encoding": {"x": {"field": "x", "type": "quantitative"}, "y": {"field": "y", "type": "quantitative"}, "text": {"field": "t"}}},
    {"data": {"name": "labels"}, "transform": [{"filter": "datum.p == 8 && datum.k == 'pct'"}], "mark": {"type": "text", "fontSize": 28, "align": "right", "color": "black"}, "encoding": {"x": {"field": "x", "type": "quantitative"}, "y": {"field": "y", "type": "quantitative"}, "text": {"field": "t"}}}
   ]
  }
  ]
 }
 ]
}
]
}
